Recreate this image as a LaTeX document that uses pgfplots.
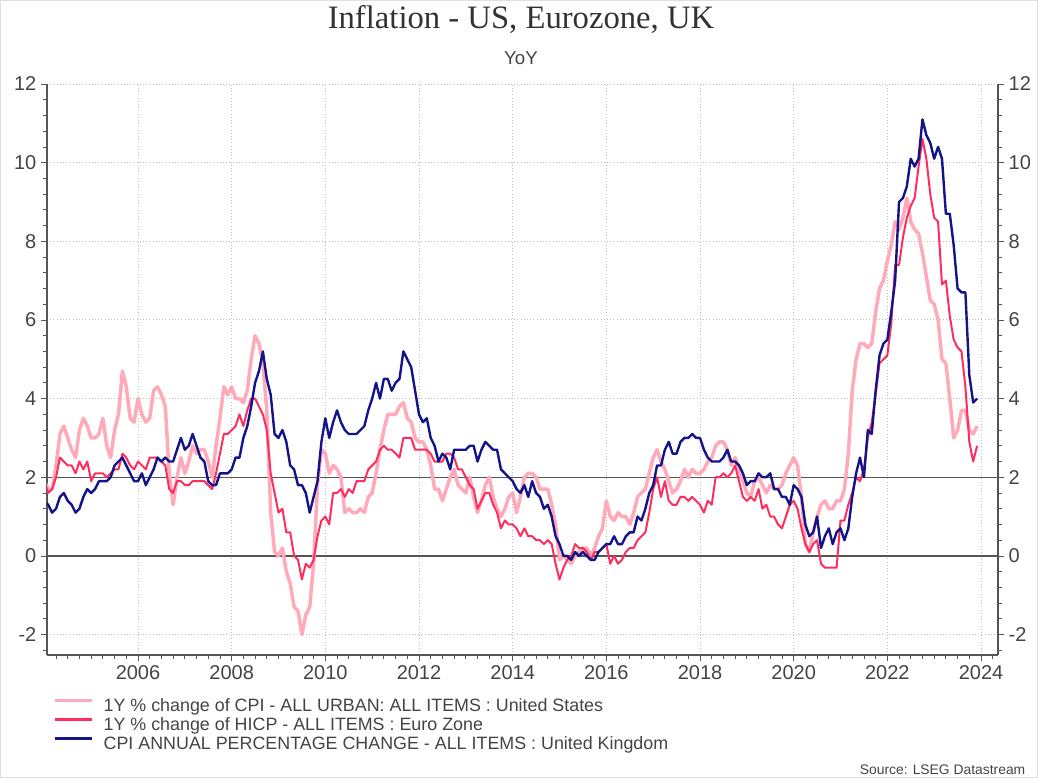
\documentclass[border=0pt]{standalone}
\usepackage{fontspec}
\setmainfont{Liberation Sans}
\newfontfamily\titlefont{Liberation Serif}
\usepackage{pgfplots}
\usepackage{pgfplotstable}
\pgfplotsset{compat=1.18}
\definecolor{uscol}{HTML}{FFA9B9}
\definecolor{eucol}{HTML}{FF2D5E}
\definecolor{ukcol}{HTML}{13138A}
\definecolor{txt}{HTML}{444444}
\definecolor{ttl}{HTML}{333333}
\definecolor{axcol}{HTML}{555555}
\definecolor{gridc}{HTML}{BDBDBD}

\pgfplotstableread{
y m us eu uk
2004 1 1.9 1.9 1.4
2004 2 1.7 1.6 1.3
2004 3 1.7 1.7 1.1
2004 4 2.3 2.0 1.2
2004 5 3.1 2.5 1.5
2004 6 3.3 2.4 1.6
2004 7 3.0 2.3 1.4
2004 8 2.7 2.3 1.3
2004 9 2.5 2.1 1.1
2004 10 3.2 2.4 1.2
2004 11 3.5 2.2 1.5
2004 12 3.3 2.4 1.7
2005 1 3.0 1.9 1.6
2005 2 3.0 2.1 1.7
2005 3 3.1 2.1 1.9
2005 4 3.5 2.1 1.9
2005 5 2.8 2.0 1.9
2005 6 2.5 2.1 2.0
2005 7 3.2 2.2 2.3
2005 8 3.6 2.2 2.4
2005 9 4.7 2.6 2.5
2005 10 4.3 2.5 2.3
2005 11 3.5 2.3 2.1
2005 12 3.4 2.2 1.9
2006 1 4.0 2.4 1.9
2006 2 3.6 2.3 2.1
2006 3 3.4 2.2 1.8
2006 4 3.5 2.5 2.0
2006 5 4.2 2.5 2.2
2006 6 4.3 2.5 2.5
2006 7 4.1 2.4 2.4
2006 8 3.8 2.3 2.5
2006 9 2.1 1.7 2.4
2006 10 1.3 1.6 2.4
2006 11 2.0 1.9 2.7
2006 12 2.5 1.9 3.0
2007 1 2.1 1.8 2.7
2007 2 2.4 1.8 2.8
2007 3 2.8 1.9 3.1
2007 4 2.6 1.9 2.8
2007 5 2.7 1.9 2.5
2007 6 2.7 1.9 2.4
2007 7 2.4 1.8 1.9
2007 8 2.0 1.7 1.8
2007 9 2.8 2.1 1.8
2007 10 3.5 2.6 2.1
2007 11 4.3 3.1 2.1
2007 12 4.1 3.1 2.1
2008 1 4.3 3.2 2.2
2008 2 4.0 3.3 2.5
2008 3 4.0 3.6 2.5
2008 4 3.9 3.3 3.0
2008 5 4.2 3.7 3.3
2008 6 5.0 4.0 3.8
2008 7 5.6 4.0 4.4
2008 8 5.4 3.8 4.7
2008 9 4.9 3.6 5.2
2008 10 3.7 3.2 4.5
2008 11 1.1 2.1 4.1
2008 12 0.1 1.6 3.1
2009 1 0.0 1.1 3.0
2009 2 0.2 1.2 3.2
2009 3 -0.4 0.6 2.9
2009 4 -0.7 0.6 2.3
2009 5 -1.3 0.0 2.2
2009 6 -1.4 -0.1 1.8
2009 7 -2.0 -0.6 1.8
2009 8 -1.5 -0.2 1.6
2009 9 -1.3 -0.3 1.1
2009 10 -0.2 -0.1 1.5
2009 11 1.8 0.5 1.9
2009 12 2.7 0.9 2.9
2010 1 2.6 1.0 3.5
2010 2 2.1 0.8 3.0
2010 3 2.3 1.6 3.4
2010 4 2.2 1.6 3.7
2010 5 2.0 1.7 3.4
2010 6 1.1 1.5 3.2
2010 7 1.2 1.7 3.1
2010 8 1.1 1.6 3.1
2010 9 1.1 1.9 3.1
2010 10 1.2 1.9 3.2
2010 11 1.1 1.9 3.3
2010 12 1.5 2.2 3.7
2011 1 1.6 2.3 4.0
2011 2 2.1 2.4 4.4
2011 3 2.7 2.7 4.0
2011 4 3.2 2.8 4.5
2011 5 3.6 2.7 4.5
2011 6 3.6 2.7 4.2
2011 7 3.6 2.6 4.4
2011 8 3.8 2.5 4.5
2011 9 3.9 3.0 5.2
2011 10 3.5 3.0 5.0
2011 11 3.4 3.0 4.8
2011 12 3.0 2.7 4.2
2012 1 2.9 2.7 3.6
2012 2 2.9 2.7 3.4
2012 3 2.7 2.7 3.5
2012 4 2.3 2.6 3.0
2012 5 1.7 2.4 2.8
2012 6 1.7 2.4 2.4
2012 7 1.4 2.4 2.6
2012 8 1.7 2.6 2.5
2012 9 2.0 2.6 2.2
2012 10 2.2 2.5 2.7
2012 11 1.8 2.2 2.7
2012 12 1.7 2.2 2.7
2013 1 1.6 2.0 2.7
2013 2 2.0 1.8 2.8
2013 3 1.5 1.7 2.8
2013 4 1.1 1.2 2.4
2013 5 1.4 1.4 2.7
2013 6 1.8 1.6 2.9
2013 7 2.0 1.6 2.8
2013 8 1.5 1.3 2.7
2013 9 1.2 1.1 2.7
2013 10 1.0 0.7 2.2
2013 11 1.2 0.9 2.1
2013 12 1.5 0.8 2.0
2014 1 1.6 0.8 1.9
2014 2 1.1 0.7 1.7
2014 3 1.5 0.5 1.6
2014 4 2.0 0.7 1.8
2014 5 2.1 0.5 1.5
2014 6 2.1 0.5 1.9
2014 7 2.0 0.4 1.6
2014 8 1.7 0.4 1.5
2014 9 1.7 0.3 1.2
2014 10 1.7 0.4 1.3
2014 11 1.3 0.3 1.0
2014 12 0.8 -0.2 0.5
2015 1 -0.1 -0.6 0.3
2015 2 0.0 -0.3 0.0
2015 3 -0.1 -0.1 0.0
2015 4 -0.2 0.0 -0.1
2015 5 0.0 0.3 0.1
2015 6 0.1 0.2 0.0
2015 7 0.2 0.2 0.1
2015 8 0.2 0.1 0.0
2015 9 0.0 -0.1 -0.1
2015 10 0.2 0.1 -0.1
2015 11 0.5 0.1 0.1
2015 12 0.7 0.2 0.2
2016 1 1.4 0.3 0.3
2016 2 1.0 -0.2 0.3
2016 3 0.9 0.0 0.5
2016 4 1.1 -0.2 0.3
2016 5 1.0 -0.1 0.3
2016 6 1.0 0.1 0.5
2016 7 0.8 0.2 0.6
2016 8 1.1 0.2 0.6
2016 9 1.5 0.4 1.0
2016 10 1.6 0.5 0.9
2016 11 1.7 0.6 1.2
2016 12 2.1 1.1 1.6
2017 1 2.5 1.7 1.8
2017 2 2.7 2.0 2.3
2017 3 2.4 1.5 2.3
2017 4 2.2 1.9 2.7
2017 5 1.9 1.4 2.9
2017 6 1.6 1.3 2.6
2017 7 1.7 1.3 2.6
2017 8 1.9 1.5 2.9
2017 9 2.2 1.5 3.0
2017 10 2.0 1.4 3.0
2017 11 2.2 1.5 3.1
2017 12 2.1 1.4 3.0
2018 1 2.1 1.3 3.0
2018 2 2.2 1.1 2.7
2018 3 2.4 1.4 2.5
2018 4 2.5 1.3 2.4
2018 5 2.8 2.0 2.4
2018 6 2.9 2.0 2.4
2018 7 2.9 2.1 2.5
2018 8 2.7 2.0 2.7
2018 9 2.3 2.1 2.4
2018 10 2.5 2.3 2.4
2018 11 2.2 1.9 2.3
2018 12 1.9 1.5 2.1
2019 1 1.6 1.4 1.8
2019 2 1.5 1.5 1.9
2019 3 1.9 1.4 1.9
2019 4 2.0 1.7 2.1
2019 5 1.8 1.2 2.0
2019 6 1.6 1.3 2.0
2019 7 1.8 1.0 2.1
2019 8 1.7 1.0 1.7
2019 9 1.7 0.8 1.7
2019 10 1.8 0.7 1.5
2019 11 2.1 1.0 1.5
2019 12 2.3 1.3 1.3
2020 1 2.5 1.4 1.8
2020 2 2.3 1.2 1.7
2020 3 1.5 0.7 1.5
2020 4 0.3 0.3 0.8
2020 5 0.1 0.1 0.5
2020 6 0.6 0.3 0.6
2020 7 1.0 0.4 1.0
2020 8 1.3 -0.2 0.2
2020 9 1.4 -0.3 0.5
2020 10 1.2 -0.3 0.7
2020 11 1.2 -0.3 0.3
2020 12 1.4 -0.3 0.6
2021 1 1.4 0.9 0.7
2021 2 1.7 0.9 0.4
2021 3 2.6 1.3 0.7
2021 4 4.2 1.6 1.5
2021 5 5.0 2.0 2.1
2021 6 5.4 1.9 2.5
2021 7 5.4 2.2 2.0
2021 8 5.3 3.0 3.2
2021 9 5.4 3.4 3.1
2021 10 6.2 4.1 4.2
2021 11 6.8 4.9 5.1
2021 12 7.0 5.0 5.4
2022 1 7.5 5.1 5.5
2022 2 7.9 5.9 6.2
2022 3 8.5 7.4 7.0
2022 4 8.3 7.4 9.0
2022 5 8.6 8.1 9.1
2022 6 9.1 8.6 9.4
2022 7 8.5 8.9 10.1
2022 8 8.3 9.1 9.9
2022 9 8.2 9.9 10.1
2022 10 7.7 10.6 11.1
2022 11 7.1 10.1 10.7
2022 12 6.5 9.2 10.5
2023 1 6.4 8.6 10.1
2023 2 6.0 8.5 10.4
2023 3 5.0 6.9 10.1
2023 4 4.9 7.0 8.7
2023 5 4.0 6.1 8.7
2023 6 3.0 5.5 7.9
2023 7 3.2 5.3 6.8
2023 8 3.7 5.2 6.7
2023 9 3.7 4.3 6.7
2023 10 3.2 2.9 4.6
2023 11 3.1 2.4 3.9
2023 12 3.3 2.8 4.0
}\data

\pgfplotsset{
  common/.style={
    at={(35.25pt,92.25pt)}, anchor=south west,
    scale only axis, width=713.25pt, height=428.25pt,
    xmin=2004.057, xmax=2024.363, ymin=-2.52, ymax=12,
    xtick={2006,2008,...,2024},
    minor xtick={2004.25,2004.5,...,2024.3},
    ytick={-2,0,...,12},
    minor ytick={-2.4,-2.0,...,12.01},
    tick align=outside,
    major tick length=4.5pt, minor tick length=3pt,
    every tick/.style={axcol, line width=0.6pt},
    tick label style={font=\fontsize{15}{18}\selectfont, text=txt},
    x tick label style={/pgf/number format/1000 sep={}},
    /pgf/number format/assume math mode=true,
    axis line style={axcol, line width=0.9pt},
  }
}

\begin{document}
\begin{tikzpicture}
\path[use as bounding box] (0,0) rectangle (778.5pt,583.5pt);
\draw[gray!25, line width=0.8pt] (0.4pt,0.4pt) rectangle (778.1pt,583.1pt);

\begin{axis}[common,
  axis x line*=bottom, axis y line*=left,
  grid=major, major grid style={gridc, dotted, line width=0.7pt},
  legend style={at={(0.0063,-0.075)}, anchor=north west, draw=none, fill=none,
    font=\fontsize{13.4}{16}\selectfont, text=txt, cells={anchor=west},
    inner sep=0pt, row sep=1.25pt,
    nodes={inner sep=0pt, text height=10pt, text depth=3pt},
    /tikz/every odd column/.append style={column sep=7.5pt}},
  legend image code/.code={\draw[#1, line width=2.3pt] (0pt,4.6pt) -- (28pt,4.6pt);},
]
\addplot[axcol, line width=1.0pt, forget plot] coordinates {(2004,0) (2024.5,0)};
\addplot[axcol, line width=1.0pt, forget plot] coordinates {(2004,2) (2024.5,2)};
\addplot[uscol, line width=2.6pt, line join=round] table[x expr=\thisrow{y}+(\thisrow{m}-1)/12, y=us] {\data};
\addlegendentry{1Y \% change of CPI - ALL URBAN: ALL ITEMS : United States}
\addplot[eucol, line width=1.5pt, line join=round] table[x expr=\thisrow{y}+(\thisrow{m}-1)/12, y=eu] {\data};
\addlegendentry{1Y \% change of HICP - ALL ITEMS : Euro Zone}
\addplot[ukcol, line width=1.8pt, line join=round] table[x expr=\thisrow{y}+(\thisrow{m}-1)/12, y=uk] {\data};
\addlegendentry{CPI ANNUAL PERCENTAGE CHANGE - ALL ITEMS : United Kingdom}
\end{axis}

\begin{axis}[common, axis y line*=right, axis x line=none]
\end{axis}

\node[font=\titlefont\fontsize{24.5}{28}\selectfont, text=ttl] at (390.75pt,568.5pt) {Inflation - US, Eurozone, UK};
\node[font=\fontsize{14}{16}\selectfont, text=txt] at (390.75pt,540pt) {YoY};
\node[anchor=east, font=\fontsize{10.4}{12}\selectfont, text=txt] at (772.5pt,6pt) {Source: LSEG Datastream};
\end{tikzpicture}
\end{document}
